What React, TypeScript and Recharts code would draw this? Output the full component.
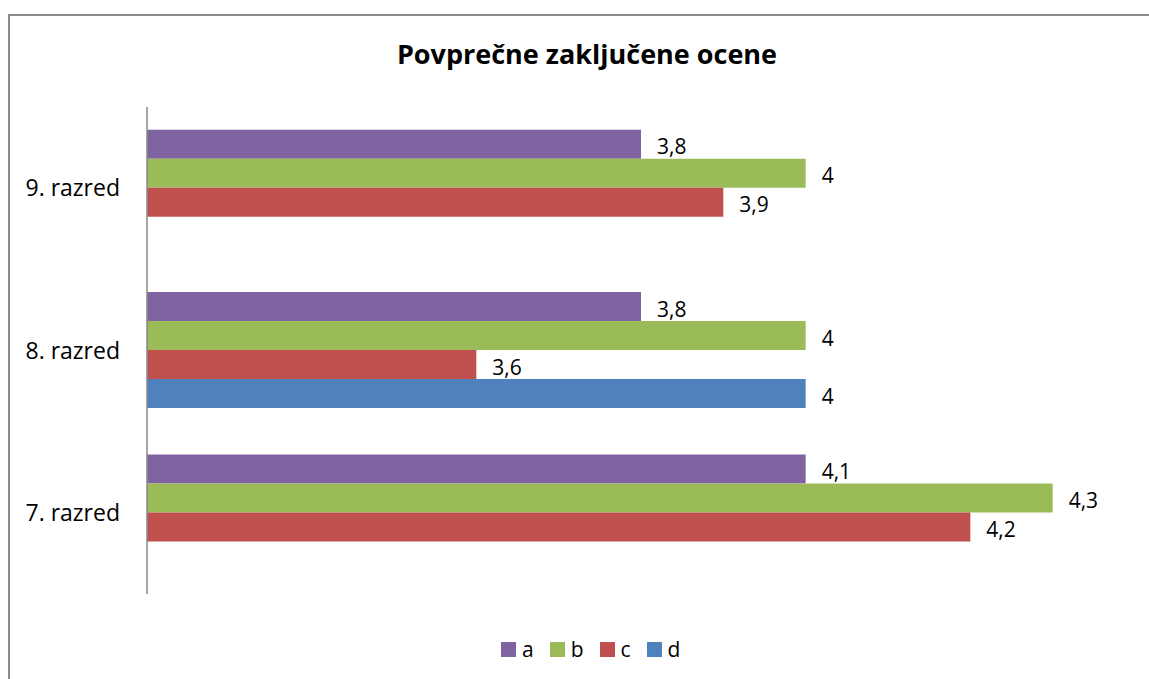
import React from 'react';
import { BarChart, Bar, XAxis, YAxis, LabelList } from 'recharts';

const categories = ['9. razred', '8. razred', '7. razred'];
const seriesNames = ['a', 'b', 'c', 'd'];
const seriesColors = ['#8064A2', '#9BBB59', '#C0504D', '#4F81BD'];
const valuesA = [3.8, 3.8, 4.0];
const valuesB = [4.0, 4.0, 4.3];
const valuesC = [3.9, 3.6, 4.2];
const valuesD: (number | null)[] = [null, 4.0, null];
const labelsA = ['3,8', '3,8', '4,1'];
const labelsB = ['4', '4', '4,3'];
const labelsC = ['3,9', '3,6', '4,2'];
const labelsD = ['', '4', ''];
const xDomain = [3.2, 4.4];
const title = 'Povprečne zaključene ocene';

const data = categories.map((name, i) => ({
  name,
  a: valuesA[i],
  b: valuesB[i],
  c: valuesC[i],
  d: valuesD[i],
  la: labelsA[i],
  lb: labelsB[i],
  lc: labelsC[i],
  ld: labelsD[i],
}));

const FONT = '"Open Sans", sans-serif';

const renderLabel = (props: any) => {
  const { x, y, width, height, value } = props;
  if (value === null || value === undefined || value === '') return null;
  return (
    <text
      x={Number(x) + Number(width) + 16}
      y={Number(y) + Number(height) / 2 + 2}
      dominantBaseline="central"
      fontFamily={FONT}
      fontSize={21}
      fill="#000"
    >
      {value}
    </text>
  );
};

export default function App() {
  return (
    <div style={{ position: 'fixed', left: 0, top: 0, width: 1149, height: 679, overflow: 'hidden', background: '#fff' }}>
      <div
        style={{
          position: 'absolute',
          left: 8,
          top: 14,
          width: 1200,
          height: 720,
          border: '2px solid #8c8c8c',
          boxSizing: 'border-box',
        }}
      />
      <div
        style={{
          position: 'absolute',
          left: 0,
          top: 36,
          width: 1174,
          textAlign: 'center',
          fontFamily: FONT,
          fontWeight: 700,
          fontSize: 27,
          lineHeight: '36px',
          color: '#000',
        }}
      >
        {title}
      </div>
      <div style={{ position: 'absolute', left: 0, top: 0 }}>
        <BarChart
          width={1149}
          height={679}
          data={data}
          layout="vertical"
          margin={{ top: 107, right: 14, bottom: 85, left: 0 }}
          barCategoryGap="14%"
          barGap={0}
        >
          <XAxis type="number" domain={xDomain} allowDataOverflow hide />
          <YAxis
            type="category"
            dataKey="name"
            width={147}
            tickLine={false}
            tickSize={0}
            tickMargin={27}
            axisLine={{ stroke: '#888888', strokeWidth: 1.5 }}
            tick={{ fontFamily: FONT, fontSize: 23, fill: '#000' }}
          />
          {seriesNames.map((s, i) => (
            <Bar key={s} dataKey={s} fill={seriesColors[i]} isAnimationActive={false}>
              <LabelList dataKey={'l' + s} content={renderLabel} />
            </Bar>
          ))}
        </BarChart>
      </div>
      <div
        style={{
          position: 'absolute',
          left: 501,
          top: 636,
          height: 26,
          display: 'flex',
          alignItems: 'center',
          fontFamily: FONT,
          fontSize: 21,
          color: '#000',
        }}
      >
        {seriesNames.map((s, i) => (
          <div key={s} style={{ display: 'flex', alignItems: 'center', marginRight: i < 3 ? 16 : 0 }}>
            <div style={{ width: 15, height: 15, background: seriesColors[i], marginRight: 6 }} />
            <span style={{ lineHeight: '26px' }}>{s}</span>
          </div>
        ))}
      </div>
    </div>
  );
}
